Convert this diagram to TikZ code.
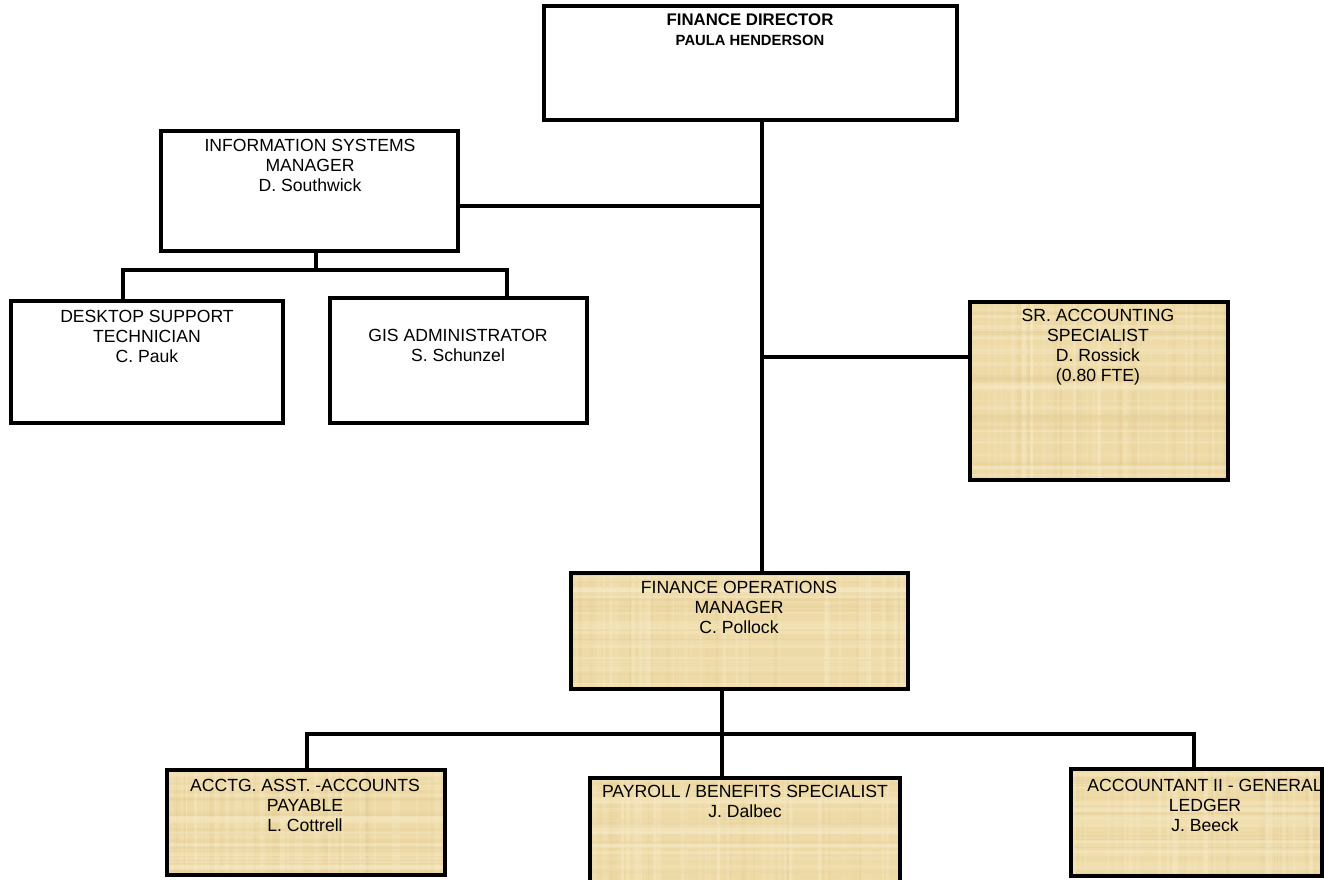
\documentclass[tikz,border=0pt]{standalone}
\usepackage{fontspec}
\setmainfont{Liberation Sans}
\usetikzlibrary{calc}

\definecolor{parchbase}{RGB}{238,218,166}
\definecolor{parchlight}{RGB}{247,234,198}
\definecolor{parchdark}{RGB}{220,196,140}

\pgfmathsetseed{4242}

\tikzset{
  orgbox/.style={draw=black, line width=3.4pt, inner sep=0pt, outer sep=0pt, anchor=north west},
  plainbox/.style={orgbox, fill=white},
  parchbox/.style={orgbox, fill=parchbase,
    path picture={
      \foreach \i in {1,...,60}{
        \pgfmathsetmacro\u{rnd}
        \pgfmathsetmacro\w{1+4*rnd}
        \pgfmathsetmacro\o{0.15+0.3*rnd}
        \pgfmathsetmacro\c{rnd}
        \ifdim\c pt<0.65pt
          \draw[parchlight, line width=\w pt, opacity=\o]
            ($(path picture bounding box.north west)!\u!(path picture bounding box.north east)$) --
            ($(path picture bounding box.south west)!\u!(path picture bounding box.south east)$);
        \else
          \draw[parchdark, line width=\w pt, opacity=\o*0.5]
            ($(path picture bounding box.north west)!\u!(path picture bounding box.north east)$) --
            ($(path picture bounding box.south west)!\u!(path picture bounding box.south east)$);
        \fi
      }
      \foreach \i in {1,...,40}{
        \pgfmathsetmacro\u{rnd}
        \pgfmathsetmacro\w{1+4*rnd}
        \pgfmathsetmacro\o{0.15+0.3*rnd}
        \pgfmathsetmacro\c{rnd}
        \ifdim\c pt<0.65pt
          \draw[parchlight, line width=\w pt, opacity=\o]
            ($(path picture bounding box.north west)!\u!(path picture bounding box.south west)$) --
            ($(path picture bounding box.north east)!\u!(path picture bounding box.south east)$);
        \else
          \draw[parchdark, line width=\w pt, opacity=\o*0.5]
            ($(path picture bounding box.north west)!\u!(path picture bounding box.south west)$) --
            ($(path picture bounding box.north east)!\u!(path picture bounding box.south east)$);
        \fi
      }
    }},
  conn/.style={draw=black, line width=4pt, line join=miter},
  lbl/.style={anchor=north, inner sep=0pt, align=center, text=black,
    font=\fontsize{17.6}{20}\selectfont},
}

\begin{document}
\begin{tikzpicture}[x=1pt, y=-1pt]
\useasboundingbox (0,0) rectangle (1324,879);
\fill[white] (0,0) rectangle (1324,879);

% boxes
\node[plainbox, minimum width=413pt, minimum height=114pt] (fd)    at (544,6)   {};
\node[plainbox, minimum width=297pt, minimum height=120pt] (ism)   at (161,131) {};
\node[plainbox, minimum width=272pt, minimum height=122pt] (dst)   at (11,301)  {};
\node[plainbox, minimum width=257pt, minimum height=125pt] (gis)   at (330,298) {};
\node[parchbox, minimum width=258pt, minimum height=178pt] (sr)    at (970,302) {};
\node[parchbox, minimum width=337pt, minimum height=116pt] (fom)   at (571,573) {};
\node[parchbox, minimum width=278pt, minimum height=105pt] (acctg) at (167,770) {};
\node[parchbox, minimum width=310pt, minimum height=122pt] (pay)   at (590,778) {};
\node[parchbox, minimum width=251pt, minimum height=107pt] (acc2)  at (1071,769) {};

% connector guide points
\coordinate (spine)   at (762,0);
\coordinate (ismtap)  at (0,206);
\coordinate (srtap)   at (0,357);
\coordinate (isbus)   at (316,270);
\coordinate (dstdrop) at (123,270);
\coordinate (gisdrop) at (507,270);
\coordinate (fomdrop) at (722,734);
\coordinate (acdrop)  at (307,734);
\coordinate (a2drop)  at (1194,734);

% connectors
\draw[conn] (fd.south -| spine) -- (fom.north -| spine);
\draw[conn] (ism.east |- ismtap) -- (spine |- ismtap);
\draw[conn] (spine |- srtap) -- (sr.west |- srtap);
\draw[conn] (ism.south -| isbus) -- (isbus);
\draw[conn] (dstdrop |- dst.north) -- (dstdrop) -- (gisdrop) -- (gisdrop |- gis.north);
\draw[conn] (fom.south -| fomdrop) -- (pay.north -| fomdrop);
\draw[conn] (acdrop |- acctg.north) -- (acdrop) -- (a2drop) -- (a2drop |- acc2.north);

% labels
\node[lbl, font=\bfseries\fontsize{16.8}{20}\selectfont] (fd-t) at (750,14)
  {FINANCE DIRECTOR\\{\fontsize{14.8}{20}\selectfont PAULA HENDERSON}};
\node[lbl] (ism-t)   at (310,138.7)  {INFORMATION SYSTEMS\\MANAGER\\D. Southwick};
\node[lbl] (dst-t)   at (147,309.7)  {DESKTOP SUPPORT\\TECHNICIAN\\C. Pauk};
\node[lbl] (gis-t)   at (458,328.7)  {GIS ADMINISTRATOR\\S. Schunzel};
\node[lbl] (sr-t)    at (1098,308.7) {SR. ACCOUNTING\\SPECIALIST\\D. Rossick\\(0.80 FTE)};
\node[lbl] (fom-t)   at (739,580.7)  {FINANCE OPERATIONS\\MANAGER\\C. Pollock};
\node[lbl] (acctg-t) at (305,778.7)  {ACCTG. ASST. -ACCOUNTS\\PAYABLE\\L. Cottrell};
\node[lbl] (pay-t)   at (745,784.7)  {PAYROLL / BENEFITS SPECIALIST\\J. Dalbec};
\node[lbl] (acc2-t)  at (1205,778.7) {ACCOUNTANT II - GENERAL\\LEDGER\\J. Beeck};
\end{tikzpicture}
\end{document}
